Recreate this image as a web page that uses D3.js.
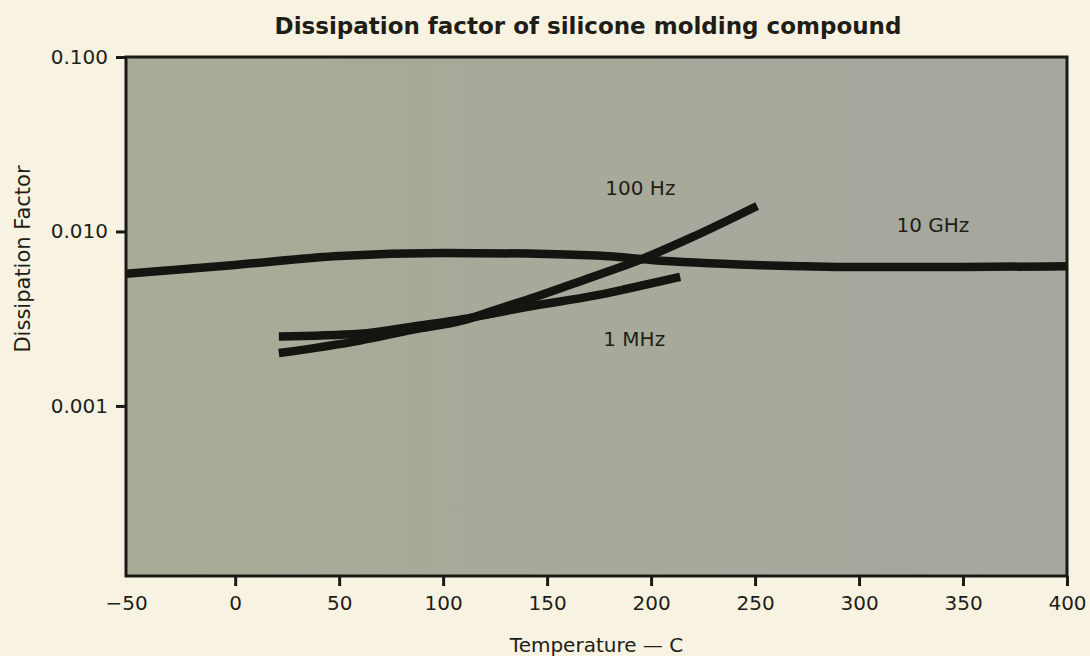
<!DOCTYPE html>
<html>
<head>
<meta charset="utf-8">
<script src="https://cdn.jsdelivr.net/npm/d3@7"></script>
<style>
  html, body { margin: 0; padding: 0; background: #f8f2e2; }
  svg { display: block; }
  text { font-family: "DejaVu Sans", "Liberation Sans", sans-serif; fill: #1e1e16; }
</style>
</head>
<body>
<svg id="chart" width="1090" height="656"></svg>
<script>
// Dissipation factor vs. temperature, three test frequencies
const temps10GHz = [-52.5, 0, 50, 100, 150, 180, 200, 250, 300, 350, 400];
const vals10GHz  = [0.00572, 0.00643, 0.00724, 0.00753, 0.00743, 0.0072, 0.00687, 0.00643, 0.00626, 0.00626, 0.00632];

const temps100Hz = [21, 60, 85, 110, 125, 140, 170, 195, 220, 251];
const vals100Hz  = [0.00201, 0.00237, 0.00273, 0.0031, 0.00355, 0.00405, 0.0054, 0.0069, 0.0093, 0.0140];

const temps1MHz = [21, 60, 85, 110, 125, 140, 172, 188, 214];
const vals1MHz  = [0.0025, 0.00259, 0.00285, 0.00315, 0.00341, 0.00369, 0.00427, 0.00468, 0.00549];

const seriesNames = ["10 GHz", "100 Hz", "1 MHz"];
// label anchor positions (temperature, dissipation factor)
const labelTemps = [318, 178, 177];
const labelVals  = [0.00993, 0.0162, 0.00221];

const xTickValues = [-50, 0, 50, 100, 150, 200, 250, 300, 350, 400];
const xTickLabels = ["\u221250", "0", "50", "100", "150", "200", "250", "300", "350", "400"];
const yTickValues = [0.1, 0.01, 0.001];
const yTickLabels = ["0.100", "0.010", "0.001"];

const titleText = "Dissipation factor of silicone molding compound";
const xTitle = "Temperature \u2014 C";
const yTitle = "Dissipation Factor";

const svg = d3.select("#chart");
const plotLeft = 126, plotRight = 1067, plotTop = 57, plotBottom = 576;

const x = d3.scaleLinear().domain([-52.5, 400]).range([plotLeft, plotRight]);
const y = d3.scaleLog().domain([1.06e-4, 0.1]).range([plotBottom, plotTop]);

const pw = x.range()[1] - x.range()[0];
const ph = y.range()[0] - y.range()[1];

// plot background with a faint left-to-right tone shift
const defs = svg.append("defs");
const grad = defs.append("linearGradient").attr("id", "bg").attr("x1", 0).attr("x2", 1).attr("y1", 0).attr("y2", 0);
grad.append("stop").attr("offset", "0%").attr("stop-color", "#a8ac97");
grad.append("stop").attr("offset", "55%").attr("stop-color", "#a7a99b");
grad.append("stop").attr("offset", "100%").attr("stop-color", "#a6a79e");
defs.append("clipPath").attr("id", "plotClip").append("rect")
  .attr("x", x.range()[0]).attr("y", y.range()[1])
  .attr("width", pw).attr("height", ph);

svg.append("rect")
  .attr("x", x.range()[0]).attr("y", y.range()[1])
  .attr("width", pw).attr("height", ph)
  .attr("fill", "url(#bg)");

// curves
const line = d3.line()
  .x(d => x(d[0]))
  .y(d => y(d[1]))
  .curve(d3.curveMonotoneX);

const series = [
  d3.zip(temps10GHz, vals10GHz),
  d3.zip(temps100Hz, vals100Hz),
  d3.zip(temps1MHz, vals1MHz)
];

svg.append("g").attr("clip-path", "url(#plotClip)")
  .selectAll("path").data(series).join("path")
  .attr("d", line)
  .attr("fill", "none")
  .attr("stroke", "#141410")
  .attr("stroke-width", 8.5)
  .attr("stroke-linecap", "butt");

// series labels
svg.append("g").selectAll("text").data(seriesNames).join("text")
  .attr("x", (d, i) => x(labelTemps[i]))
  .attr("y", (d, i) => y(labelVals[i]))
  .attr("font-size", 20)
  .text(d => d);

// frame
svg.append("rect")
  .attr("x", x.range()[0]).attr("y", y.range()[1])
  .attr("width", pw).attr("height", ph)
  .attr("fill", "none").attr("stroke", "#1a1a14").attr("stroke-width", 3);

// axes
const xAxis = d3.axisBottom(x)
  .tickValues(xTickValues)
  .tickFormat((d, i) => xTickLabels[i])
  .tickSize(10).tickPadding(10);
const gx = svg.append("g").attr("transform", `translate(0,${plotBottom})`).call(xAxis);
gx.select(".domain").remove();
gx.selectAll(".tick line").attr("stroke", "#1a1a14").attr("stroke-width", 3)
  .filter(d => d === -50).remove();
gx.selectAll(".tick text").attr("font-size", 20).attr("fill", "#1e1e16")
  .attr("font-family", "DejaVu Sans, sans-serif");
gx.selectAll(".tick").filter(d => d === -50).select("text").attr("dx", -5);

const yAxis = d3.axisLeft(y)
  .tickValues(yTickValues)
  .tickFormat((d, i) => yTickLabels[i])
  .tickSize(10).tickPadding(8);
const gy = svg.append("g").attr("transform", `translate(${plotLeft},0)`).call(yAxis);
gy.select(".domain").remove();
gy.selectAll(".tick line").attr("stroke", "#1a1a14").attr("stroke-width", 3);
gy.selectAll(".tick text").attr("font-size", 20).attr("fill", "#1e1e16")
  .attr("font-family", "DejaVu Sans, sans-serif");

// titles
svg.append("text")
  .attr("x", 588).attr("y", 34)
  .attr("text-anchor", "middle")
  .attr("font-size", 23)
  .attr("font-weight", "bold")
  .text(titleText);

svg.append("text")
  .attr("x", (plotLeft + plotRight) / 2).attr("y", 652)
  .attr("text-anchor", "middle")
  .attr("font-size", 20)
  .text(xTitle);

svg.append("text")
  .attr("transform", "translate(30,259) rotate(-90)")
  .attr("text-anchor", "middle")
  .attr("font-size", 21)
  .text(yTitle);
</script>
</body>
</html>
